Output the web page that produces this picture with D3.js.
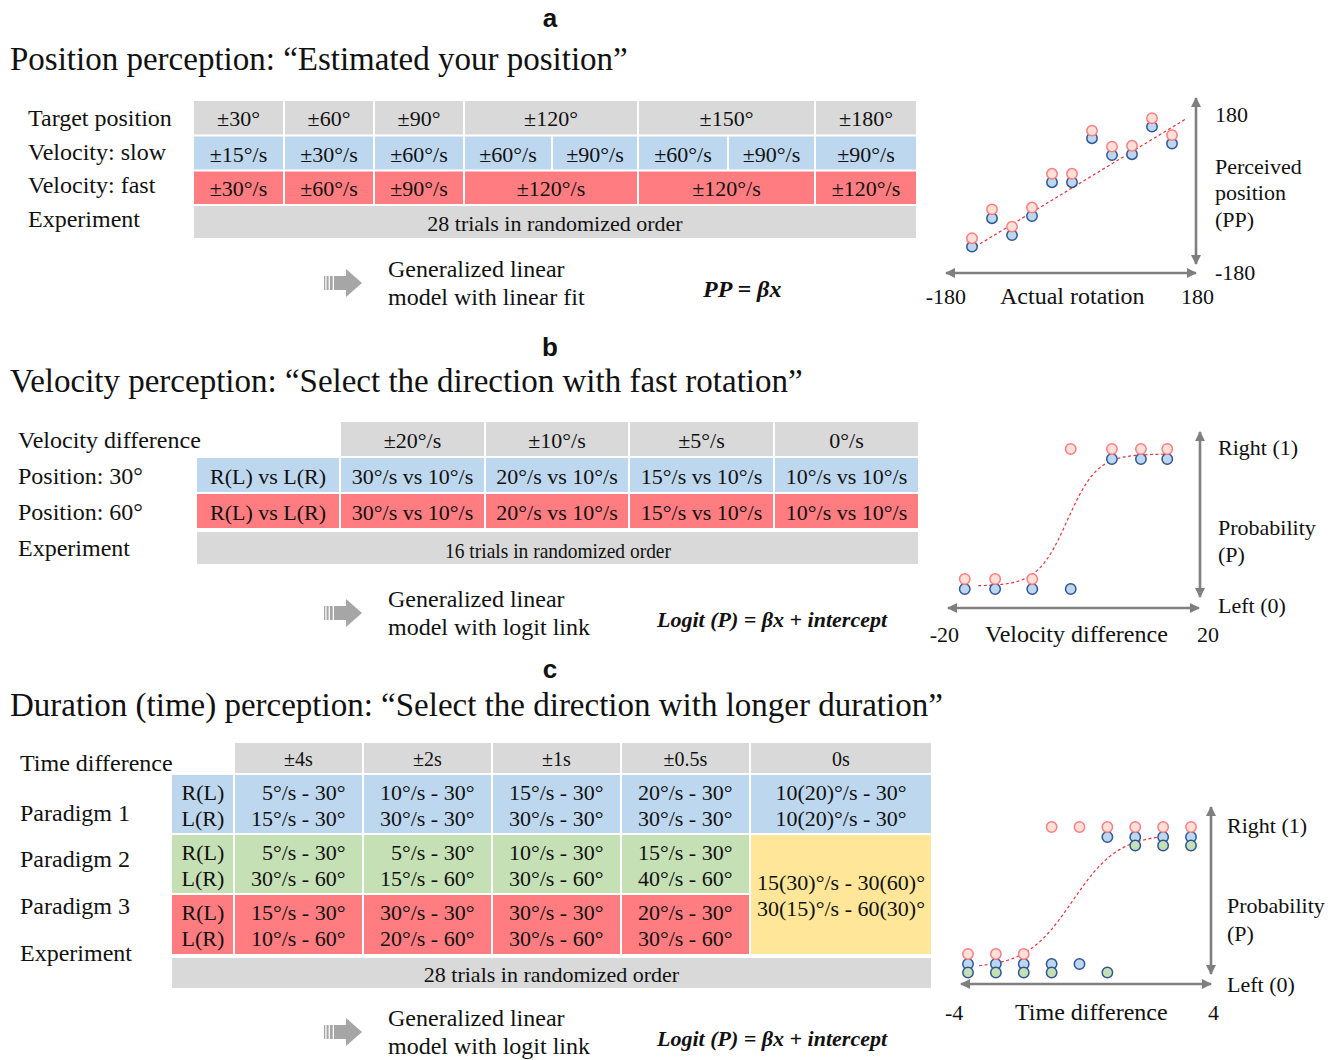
<!DOCTYPE html>
<html>
<head>
<meta charset="utf-8">
<script src="https://cdn.jsdelivr.net/npm/d3@7"></script>
<style>
  body { margin: 0; background: #fff; }
  text { font-family: "Liberation Serif", "Times New Roman", serif; fill: #111; }
</style>
</head>
<body>
<svg id="fig" width="1338" height="1060"></svg>
<script>
// ---- data: panel a (position perception)
var aTargets = ["±30°", "±60°", "±90°", "±120°", "±150°", "±180°"];
var aSlow = ["±15°/s", "±30°/s", "±60°/s", "±60°/s", "±90°/s", "±60°/s", "±90°/s", "±90°/s"];
var aFast = ["±30°/s", "±60°/s", "±90°/s", "±120°/s", "±120°/s", "±120°/s"];
var aRot = [-150, -120, -90, -60, -30, 0, 30, 60, 90, 120, 150];
var aPPslow = [-150, -86, -124, -81, -5, -5, 94, 56, 58, 120, 82];
var aPPfast = [-131, -66, -105, -62, 14, 14, 111, 75, 77, 139, 101];
var aFitBeta = 0.91, aFitIntercept = -18, aFitRange = [-145, 172];

// ---- data: panel b (velocity perception)
var bDiff = ["±20°/s", "±10°/s", "±5°/s", "0°/s"];
var bPos30 = ["30°/s vs 10°/s", "20°/s vs 10°/s", "15°/s vs 10°/s", "10°/s vs 10°/s"];
var bPos60 = ["30°/s vs 10°/s", "20°/s vs 10°/s", "15°/s vs 10°/s", "10°/s vs 10°/s"];
var bX = [-15, -10.5, -5, 0.7, 6.8, 11.1, 15];
var bSlow = [0, 0, 0, 0, 1, 1, 1];
var bFast = [0, 0, 0, 1, 1, 1, 1];
var bFitBeta = 0.45, bFitIntercept = -0.1, bFitRange = [-13, 15];

// ---- data: panel c (duration perception)
var cTime = ["±4s", "±2s", "±1s", "±0.5s", "0s"];
var cP1 = [["5°/s - 30°", "15°/s - 30°"], ["10°/s - 30°", "30°/s - 30°"], ["15°/s - 30°", "30°/s - 30°"], ["20°/s - 30°", "30°/s - 30°"]];
var cP1zero = ["10(20)°/s - 30°", "10(20)°/s - 30°"];
var cP2 = [["5°/s - 30°", "30°/s - 60°"], ["5°/s - 30°", "15°/s - 60°"], ["10°/s - 30°", "30°/s - 60°"], ["15°/s - 30°", "40°/s - 60°"]];
var cP3 = [["15°/s - 30°", "10°/s - 60°"], ["30°/s - 30°", "20°/s - 60°"], ["30°/s - 30°", "30°/s - 60°"], ["20°/s - 30°", "30°/s - 60°"]];
var cP23zero = ["15(30)°/s - 30(60)°", "30(15)°/s - 60(30)°"];
var cX = [-4, -3, -2, -1, 0, 1, 2, 3, 4];
var cP1y = [0, 0, 0, 0, 0, 1, 1, 1, 1];
var cP2y = [0, 0, 0, 0, null, 0, 1, 1, 1];
var cP3y = [0, 0, 0, 1, 1, 1, 1, 1, 1];
var cFitBeta = 1.2, cFitIntercept = 0.3, cFitRange = [-3.6, 2.9];

// colours
var GRAY = "#d9d9d9", BLUE = "#bdd7ee", RED = "#ff7c80", GREEN = "#c5e0b4", YELLOW = "#ffe699";
var AXIS = "#7f7f7f";

var svg = d3.select("#fig");
svg.append("rect").attr("width", 1338).attr("height", 1060).attr("fill", "#fff");

var defs = svg.append("defs");
defs.append("marker").attr("id", "ah")
    .attr("viewBox", "0 0 10 10").attr("refX", 9).attr("refY", 5)
    .attr("markerWidth", 11).attr("markerHeight", 10)
    .attr("markerUnits", "userSpaceOnUse")
    .attr("orient", "auto-start-reverse")
  .append("path").attr("d", "M0,0 L10,5 L0,10 z").attr("fill", AXIS);

// --- helpers
function txt(g, x, y, s, size, opts){
	opts = opts || {};
	var t = g.append("text").attr("x", x).attr("y", y).attr("font-size", size).text(s);
	if(opts.anchor) t.attr("text-anchor", opts.anchor);
	if(opts.weight) t.attr("font-weight", opts.weight);
	if(opts.style) t.attr("font-style", opts.style);
	if(opts.family) t.style("font-family", opts.family);
	if(opts.base) t.attr("dominant-baseline", opts.base);
	return t;
}

function row(g, edges, yTop, yBot, labels, fill, size){
	var cells = labels.map(function(t, i){ return {t: t, x0: edges[i], x1: edges[i + 1]}; });
	g.selectAll(null).data(cells).join("rect")
		.attr("x", function(d){ return d.x0 + 1; })
		.attr("y", yTop + 1)
		.attr("width", function(d){ return d.x1 - d.x0 - 2; })
		.attr("height", yBot - yTop - 2)
		.attr("fill", fill);
	g.selectAll(null).data(cells).join("text")
		.attr("x", function(d){ return (d.x0 + d.x1) / 2; })
		.attr("y", (yTop + yBot) / 2 + 1)
		.attr("text-anchor", "middle")
		.attr("dominant-baseline", "central")
		.attr("font-size", size)
		.text(function(d){ return d.t; });
}

// striped block arrow (the grey "=>" in front of each model)
function blockArrow(g, x, yc){
	var a = g.append("g").attr("fill", "#a6a6a6");
	a.append("rect").attr("x", x).attr("y", yc - 7).attr("width", 1.3).attr("height", 14);
	a.append("rect").attr("x", x + 2.6).attr("y", yc - 7).attr("width", 2).attr("height", 14);
	a.append("rect").attr("x", x + 5.9).attr("y", yc - 7).attr("width", 2.8).attr("height", 14);
	a.append("path").attr("d",
		"M" + (x + 10) + "," + (yc - 7) + " L" + (x + 22) + "," + (yc - 7) +
		" L" + (x + 22) + "," + (yc - 14) + " L" + (x + 38) + "," + yc +
		" L" + (x + 22) + "," + (yc + 14) + " L" + (x + 22) + "," + (yc + 7) +
		" L" + (x + 10) + "," + (yc + 7) + " Z");
}

function dblArrow(g, x1, y1, x2, y2){
	g.append("line").attr("x1", x1).attr("y1", y1).attr("x2", x2).attr("y2", y2)
		.attr("stroke", AXIS).attr("stroke-width", 2.6)
		.attr("marker-start", "url(#ah)").attr("marker-end", "url(#ah)");
}

function dots(g, xs, ys, xs_, ys_, dy, fill, stroke){
	var pts = xs.map(function(x, i){ return {x: x, y: ys[i]}; })
		.filter(function(d){ return d.y !== null; });
	g.selectAll(null).data(pts).join("circle")
		.attr("cx", function(d){ return xs_(d.x); })
		.attr("cy", function(d){ return ys_(d.y) + dy; })
		.attr("r", 5.2)
		.attr("fill", fill).attr("stroke", stroke).attr("stroke-width", 1.5);
}

function logitCurve(g, xs_, ys_, beta, icpt, range){
	var pts = d3.range(range[0], range[1] + 0.001, (range[1] - range[0]) / 120).map(function(x){
		return [x, 1 / (1 + Math.exp(-(beta * x + icpt)))];
	});
	g.append("path").datum(pts)
		.attr("d", d3.line().x(function(d){ return xs_(d[0]); }).y(function(d){ return ys_(d[1]); }))
		.attr("fill", "none").attr("stroke", "#e8333a").attr("stroke-width", 1.2)
		.attr("stroke-dasharray", "3,2.5");
}

function glmText(g, yBase, line2, formula, fx){
	blockArrow(g, 324, yBase + 6);
	txt(g, 388, yBase, "Generalized linear", 24);
	txt(g, 388, yBase + 28, line2, 24);
	txt(g, fx, yBase + 20, formula, fx > 680 ? 24 : 22, {weight: "bold", style: "italic"});
}

var SANS = "'Liberation Sans', Arial, sans-serif";

// ================= panel a =================
var ga = svg.append("g");
txt(ga, 550, 27, "a", 26, {anchor: "middle", weight: "bold", family: SANS});
txt(ga, 10, 70, "Position perception: “Estimated your position”", 33);

var aLabels = ["Target position", "Velocity: slow", "Velocity: fast", "Experiment"];
var aLabelY = [126, 160, 193, 227];
aLabels.forEach(function(s, i){ txt(ga, 28, aLabelY[i], s, 24); });

var aHeadEdges = [193, 284, 374, 464, 638, 815, 917];
var aSlowEdges = [193, 284, 374, 464, 552, 638, 728, 815, 917];
var aRowEdges = [100, 135.5, 170.5, 205, 239];
row(ga, aHeadEdges, aRowEdges[0], aRowEdges[1], aTargets, GRAY, 22);
row(ga, aSlowEdges, aRowEdges[1], aRowEdges[2], aSlow, BLUE, 22);
row(ga, aHeadEdges, aRowEdges[2], aRowEdges[3], aFast, RED, 22);
row(ga, [193, 917], aRowEdges[3], aRowEdges[4], ["28 trials in randomized order"], GRAY, 22);

glmText(ga, 277, "model with linear fit", "PP = βx", 703);

// mini chart a
var xA = d3.scaleLinear().domain([-180, 180]).range([952, 1192]);
var yA = d3.scaleLinear().domain([-180, 180]).range([260, 100]);
dblArrow(ga, xA(-180) - 6, 273, xA(180) + 4, 273);
dblArrow(ga, 1196, 98, 1196, 264);
var aFit = aFitRange.map(function(x){ return [x, aFitBeta * x + aFitIntercept]; });
ga.append("path").datum(aFit)
	.attr("d", d3.line().x(function(d){ return xA(d[0]); }).y(function(d){ return yA(d[1]); }))
	.attr("stroke", "#e8333a").attr("stroke-width", 1.2).attr("stroke-dasharray", "3,2.5");
dots(ga, aRot, aPPslow, xA, yA, 0, BLUE, "#2f5597");
dots(ga, aRot, aPPfast, xA, yA, 0, "#fde0d8", RED);
txt(ga, 1215, 122, "180", 22);
txt(ga, 1215, 280, "-180", 22);
txt(ga, 1215, 174, "Perceived", 22);
txt(ga, 1215, 200, "position", 22);
txt(ga, 1215, 227, "(PP)", 22);
txt(ga, 966, 304, "-180", 22, {anchor: "end"});
txt(ga, 1000, 304, "Actual rotation", 24);
txt(ga, 1181, 304, "180", 22);

// ================= panel b =================
var gb = svg.append("g");
txt(gb, 550, 356, "b", 26, {anchor: "middle", weight: "bold", family: SANS});
txt(gb, 10, 392, "Velocity perception: “Select the direction with fast rotation”", 33);

var bLabels = ["Velocity difference", "Position: 30°", "Position: 60°", "Experiment"];
var bLabelY = [448, 484, 520, 556];
bLabels.forEach(function(s, i){ txt(gb, 18, bLabelY[i], s, 24); });

var bEdges = [196, 340, 485, 629, 774, 919];
var bRowEdges = [421, 457, 493, 529, 565];
row(gb, bEdges.slice(1), bRowEdges[0], bRowEdges[1], bDiff, GRAY, 22);
row(gb, bEdges, bRowEdges[1], bRowEdges[2], ["R(L) vs L(R)"].concat(bPos30), BLUE, 22);
row(gb, bEdges, bRowEdges[2], bRowEdges[3], ["R(L) vs L(R)"].concat(bPos60), RED, 22);
row(gb, [196, 919], bRowEdges[3] + 2, bRowEdges[4], [""], GRAY, 22);
txt(gb, 558, 558, "16 trials in randomized order", 22, {anchor: "middle"})
	.attr("textLength", 226).attr("lengthAdjust", "spacingAndGlyphs");

glmText(gb, 607, "model with logit link", "Logit (P) = βx + intercept", 657);

// mini chart b
var xB = d3.scaleLinear().domain([-20, 20]).range([931, 1201]);
var yB = d3.scaleLinear().domain([0, 1]).range([589, 459]);
dblArrow(gb, 948, 608, 1199, 608);
dblArrow(gb, 1200, 432, 1200, 597);
logitCurve(gb, xB, d3.scaleLinear().domain([0, 1]).range([586, 454]), bFitBeta, bFitIntercept, bFitRange);
dots(gb, bX, bSlow, xB, yB, 0, BLUE, "#2f5597");
dots(gb, bX, bFast, xB, yB, -10, "#fde0d8", RED);
txt(gb, 1218, 455, "Right (1)", 22);
txt(gb, 1218, 535, "Probability", 22);
txt(gb, 1218, 562, "(P)", 22);
txt(gb, 1218, 613, "Left (0)", 22);
txt(gb, 959, 642, "-20", 22, {anchor: "end"});
txt(gb, 985, 642, "Velocity difference", 24);
txt(gb, 1197, 642, "20", 22);

// ================= panel c =================
var gc = svg.append("g");
txt(gc, 550, 678, "c", 26, {anchor: "middle", weight: "bold", family: SANS});
txt(gc, 10, 716, "Duration (time) perception: “Select the direction with longer duration”", 33);

var cLabels = ["Time difference", "Paradigm 1", "Paradigm 2", "Paradigm 3", "Experiment"];
var cLabelY = [771, 821, 867, 914, 961];
cLabels.forEach(function(s, i){ txt(gc, 20, cLabelY[i], s, 24); });

var cEdges = [171, 234, 363, 492, 621, 750, 932];
var cRowEdges = [742, 774, 834, 894, 955];
row(gc, cEdges.slice(1), cRowEdges[0], cRowEdges[1], cTime, GRAY, 20);

function cRow(top, bot, vals, fill, zeroVals){
	var edges = zeroVals ? cEdges : cEdges.slice(0, 6);
	row(gc, edges, top, bot, d3.range(edges.length - 1).map(function(){ return ""; }), fill, 22);
	var mid = (top + bot) / 2 + 1;
	[["R(L)", -13], ["L(R)", 13]].forEach(function(p){
		txt(gc, 203, mid + p[1], p[0], 22, {anchor: "middle", base: "central"});
	});
	vals.forEach(function(pair, i){
		var cx = (cEdges[i + 1] + cEdges[i + 2]) / 2;
		txt(gc, cx + 47, mid - 13, pair[0], 22, {anchor: "end", base: "central"});
		txt(gc, cx + 47, mid + 13, pair[1], 22, {anchor: "end", base: "central"});
	});
	if(zeroVals){
		var zx = (cEdges[5] + cEdges[6]) / 2;
		txt(gc, zx, mid - 13, zeroVals[0], 22, {anchor: "middle", base: "central"});
		txt(gc, zx, mid + 13, zeroVals[1], 22, {anchor: "middle", base: "central"});
	}
}
cRow(cRowEdges[1], cRowEdges[2], cP1, BLUE, cP1zero);
cRow(cRowEdges[2], cRowEdges[3], cP2, GREEN, null);
cRow(cRowEdges[3], cRowEdges[4], cP3, RED, null);
// merged 0s cell for paradigm 2 and 3
gc.append("rect").attr("x", cEdges[5] + 1).attr("y", cRowEdges[2] + 1)
	.attr("width", cEdges[6] - cEdges[5] - 2).attr("height", cRowEdges[4] - cRowEdges[2] - 2).attr("fill", YELLOW);
var yzMid = (cRowEdges[2] + cRowEdges[4]) / 2;
txt(gc, (cEdges[5] + cEdges[6]) / 2, yzMid - 12, cP23zero[0], 22, {anchor: "middle", base: "central"});
txt(gc, (cEdges[5] + cEdges[6]) / 2, yzMid + 14, cP23zero[1], 22, {anchor: "middle", base: "central"});
row(gc, [171, 932], 957, 989, ["28 trials in randomized order"], GRAY, 22);

glmText(gc, 1026, "model with logit link", "Logit (P) = βx + intercept", 657);

// mini chart c
var xC = d3.scaleLinear().domain([-4, 4]).range([968, 1191]);
var yC = d3.scaleLinear().domain([0, 1]).range([964, 837]);
dblArrow(gc, 961, 984, 1211, 984);
dblArrow(gc, 1211, 807, 1211, 974);
logitCurve(gc, xC, d3.scaleLinear().domain([0, 1]).range([968, 834]), cFitBeta, cFitIntercept, cFitRange);
dots(gc, cX, cP1y, xC, yC, 0, BLUE, "#2f5597");
dots(gc, cX, cP2y, xC, yC, 8.5, GREEN, "#2f5597");
dots(gc, cX, cP3y, xC, yC, -10, "#fde0d8", RED);
txt(gc, 1227, 833, "Right (1)", 22);
txt(gc, 1227, 913, "Probability", 22);
txt(gc, 1227, 941, "(P)", 22);
txt(gc, 1227, 992, "Left (0)", 22);
txt(gc, 945, 1020, "-4", 22);
txt(gc, 1015, 1020, "Time difference", 24);
txt(gc, 1208, 1020, "4", 22);
</script>
</body>
</html>
